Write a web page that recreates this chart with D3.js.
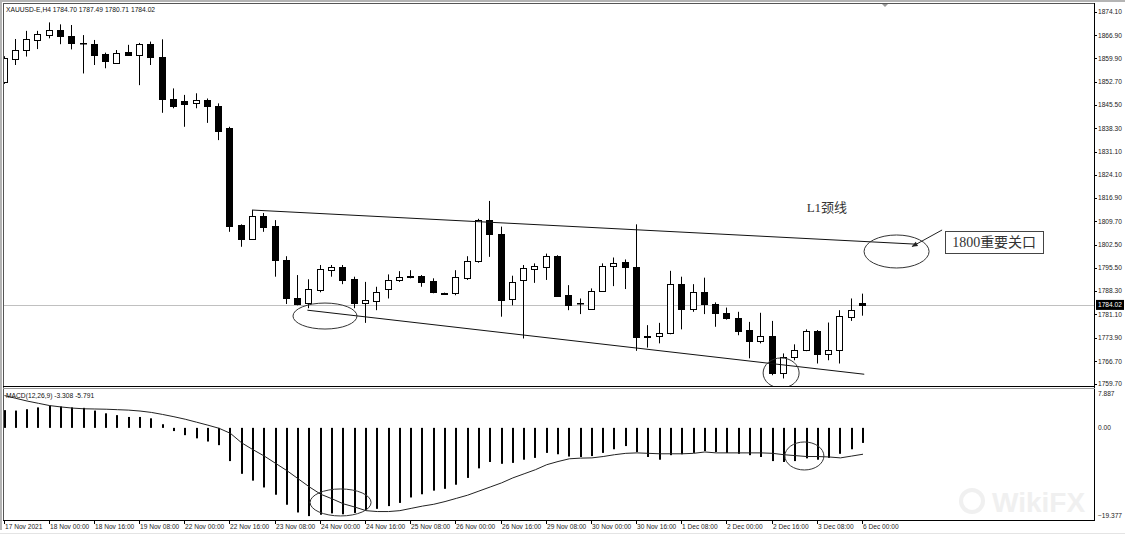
<!DOCTYPE html>
<html>
<head>
<meta charset="utf-8">
<script src="https://cdn.jsdelivr.net/npm/d3@7"></script>
<style>
  body { margin: 0; background: #fff; }
  text { font-family: "Liberation Sans", Arial, sans-serif; }
</style>
</head>
<body>
<div id="chart"></div>
<script>
var width = 1125;
var height = 536;

// XAUUSD H4, 77 bars from 17 Nov 2021 08:00 to 6 Dec 00:00
var opens  = [1852.6,1859.6,1862.4,1865.7,1867.0,1868.5,1866.7,1864.5,1864.4,1861.1,1858.6,1861.9,1861.1,1864.2,1860.2,1847.2,1846.8,1846.0,1847.0,1845.2,
              1838.4,1808.6,1804.2,1811.4,1808.3,1797.8,1786.2,1784.5,1788.4,1795.0,1795.8,1792.0,1784.5,1785.3,1788.8,1791.7,1792.7,1793.0,1791.3,1787.7,
              1787.7,1792.4,1797.5,1810.1,1805.7,1785.7,1791.7,1795.2,1795.8,1799.1,1787.0,1784.5,1783.0,1788.4,1796.0,1797.1,1795.8,1774.2,1774.4,1775.3,
              1790.4,1782.7,1788.0,1784.3,1781.4,1779.9,1776.3,1773.0,1774.4,1763.1,1768.1,1770.1,1776.0,1768.9,1770.1,1780.4,1784.70];
var highs  = [1860.5,1865.8,1868.3,1868.3,1870.9,1870.3,1870.1,1867.0,1865.5,1861.6,1862.4,1864.0,1864.6,1865.0,1865.7,1850.6,1848.6,1849.1,1847.5,1846.0,
              1838.8,1808.8,1813.2,1812.3,1810.1,1799.0,1793.2,1791.9,1796.3,1796.3,1796.3,1792.7,1791.1,1789.6,1793.4,1794.4,1794.7,1793.2,1792.2,1787.8,
              1794.7,1799.0,1810.5,1816.0,1808.1,1793.0,1796.3,1796.8,1799.8,1799.3,1790.1,1786.0,1789.1,1796.8,1798.6,1798.0,1808.8,1777.8,1778.5,1794.5,
              1792.7,1790.4,1792.4,1784.8,1783.2,1781.9,1778.8,1781.6,1779.1,1769.1,1771.9,1776.5,1776.3,1778.6,1782.4,1786.0,1787.49];
var lows   = [1852.0,1857.8,1860.4,1862.7,1866.0,1864.2,1862.6,1855.2,1857.8,1856.8,1858.3,1860.6,1851.6,1857.8,1843.1,1844.5,1838.8,1844.5,1840.0,1834.7,
              1806.5,1801.9,1804.0,1806.5,1792.7,1784.3,1783.9,1783.0,1787.9,1792.7,1790.4,1783.0,1778.5,1782.4,1786.0,1791.1,1792.2,1789.6,1787.6,1787.3,
              1787.0,1791.7,1797.0,1798.8,1780.4,1783.9,1773.7,1790.8,1791.7,1786.5,1782.4,1781.2,1782.8,1788.0,1789.8,1788.9,1769.9,1770.9,1772.2,1775.0,
              1776.5,1781.9,1781.2,1777.3,1779.5,1774.7,1767.6,1772.2,1762.4,1761.4,1767.0,1769.8,1766.0,1767.0,1766.0,1779.1,1780.71];
var closes = [1860.0,1862.4,1865.7,1867.4,1868.5,1866.7,1864.5,1864.4,1861.1,1858.8,1861.6,1861.1,1864.4,1860.2,1847.2,1845.2,1845.8,1847.0,1845.2,1837.5,
              1808.4,1804.2,1811.3,1808.0,1797.8,1786.0,1784.5,1788.8,1795.0,1795.8,1791.9,1784.5,1785.5,1788.0,1791.7,1792.7,1792.9,1791.1,1788.0,1787.5,
              1792.7,1797.5,1810.1,1805.7,1785.5,1791.0,1795.5,1796.0,1799.1,1786.8,1783.9,1784.6,1788.4,1796.0,1797.0,1795.6,1774.2,1774.4,1775.4,1790.4,
              1782.7,1788.0,1784.2,1781.6,1779.9,1776.0,1773.0,1774.4,1763.1,1768.1,1770.3,1776.0,1768.9,1770.1,1780.6,1782.6,1784.02];

// MACD(12,26,9): main (histogram) and signal line
var macdMain = [3.9,3.8,4.1,4.5,4.9,4.7,4.5,4.4,3.8,3.2,2.8,2.4,2.4,2.1,0.8,-0.7,-1.6,-2.3,-3.0,-3.8,
                -7.3,-10.1,-11.6,-13.1,-14.7,-16.9,-18.6,-19.4,-19.1,-18.8,-19.0,-18.7,-18.1,-17.8,-17.2,-16.5,-15.3,-14.6,-13.8,-13.4,
                -12.5,-11.0,-8.9,-7.5,-7.9,-7.7,-7.0,-6.6,-5.5,-5.8,-6.3,-6.4,-6.2,-5.5,-4.7,-4.0,-5.3,-6.4,-7.0,-6.0,
                -5.8,-5.5,-5.1,-5.3,-5.5,-5.7,-6.0,-6.4,-7.3,-7.5,-7.3,-6.7,-7.0,-6.6,-5.7,-4.7,-3.308];
var macdSignal = [7.1,6.5,5.9,5.4,4.9,4.6,4.35,4.2,4.15,4.1,4.0,3.9,3.7,3.4,2.95,2.45,1.9,1.25,0.6,-0.1,
                  -1.2,-3.3,-4.8,-6.2,-7.8,-9.4,-11.2,-13.0,-14.6,-15.6,-16.7,-17.4,-18.2,-18.4,-18.4,-18.2,-17.7,-17.2,-16.8,-16.2,
                  -15.5,-14.8,-13.9,-13.0,-12.1,-11.0,-10.1,-9.2,-8.1,-7.4,-6.8,-6.65,-6.6,-6.3,-5.9,-5.6,-5.5,-5.6,-5.7,-5.7,
                  -5.7,-5.6,-5.3,-5.5,-5.5,-5.5,-5.5,-5.5,-5.6,-5.9,-6.1,-6.3,-6.3,-6.4,-6.6,-6.2,-5.791];

var xLabels = ["17 Nov 2021","18 Nov 00:00","18 Nov 16:00","19 Nov 08:00","22 Nov 00:00","22 Nov 16:00","23 Nov 08:00",
               "24 Nov 00:00","24 Nov 16:00","25 Nov 08:00","26 Nov 00:00","26 Nov 16:00","29 Nov 08:00","30 Nov 00:00",
               "30 Nov 16:00","1 Dec 08:00","2 Dec 00:00","2 Dec 16:00","3 Dec 08:00","6 Dec 00:00"];
var priceTicks = [1874.10,1866.90,1859.90,1852.70,1845.50,1838.30,1831.10,1824.10,1816.90,1809.70,1802.50,
                  1795.50,1788.30,1781.10,1773.90,1766.70,1759.70];
var macdTicks = [7.887, 0, -19.377];
var lastPrice = 1784.02;

// drawn objects, in [bar index, price] coordinates
var necklineLine = [[22.0, 1813.2], [80.8, 1802.7]];
var supportLine = [[26.9, 1782.4], [76.2, 1762.7]];
var priceCircles = [[28.46, 1780.6, 32, 13], [68.84, 1763.1, 18, 15], [79.06, 1800.45, 32.5, 16.5]];
var macdCircles = [[29.84, -16.4, 30.5, 13.5], [70.9, -6.18, 19.5, 14]];
var arrowLine = [[83.09, 1807.06], [80.44, 1801.99]];

var svg = d3.select("#chart").append("svg")
    .attr("width", width)
    .attr("height", height);

svg.append("rect").attr("width", width).attr("height", height).attr("fill", "#fff");

var x = d3.scaleLinear().domain([0, 76]).range([3.5, 862]);
var y = d3.scaleLinear().domain([1759.7, 1874.1]).range([384, 12]);
var ym = d3.scaleLinear().domain([-19.377, 7.887]).range([516, 392]);

var defs = svg.append("defs");
defs.append("clipPath").attr("id", "mainClip")
    .append("rect").attr("x", 4).attr("y", 4).attr("width", 1090).attr("height", 382);
defs.append("clipPath").attr("id", "macdClip")
    .append("rect").attr("x", 4).attr("y", 389).attr("width", 1090).attr("height", 131);
defs.append("marker").attr("id", "arrowHead")
    .attr("viewBox", "0 0 10 10").attr("refX", 9).attr("refY", 5)
    .attr("markerWidth", 9).attr("markerHeight", 6).attr("orient", "auto")
    .append("path").attr("d", "M0,1 L10,5 L0,9 z").attr("fill", "#222");

// frame
svg.append("line").attr("x1", 0).attr("x2", width).attr("y1", 1).attr("y2", 1).attr("stroke", "#b4b4b4").attr("stroke-width", 2);
svg.append("line").attr("x1", 3).attr("x2", 1094).attr("y1", 3.5).attr("y2", 3.5).attr("stroke", "#555");
svg.append("line").attr("x1", 1).attr("x2", 1).attr("y1", 0).attr("y2", 530).attr("stroke", "#b4b4b4").attr("stroke-width", 2);
svg.append("line").attr("x1", 3.5).attr("x2", 3.5).attr("y1", 3).attr("y2", 520).attr("stroke", "#555");
svg.append("line").attr("x1", 1094.5).attr("x2", 1094.5).attr("y1", 3).attr("y2", 520).attr("stroke", "#000");
svg.append("line").attr("x1", 3).attr("x2", 1095).attr("y1", 386.5).attr("y2", 386.5).attr("stroke", "#000");
svg.append("line").attr("x1", 3).attr("x2", 1095).attr("y1", 388.5).attr("y2", 388.5).attr("stroke", "#999");
svg.append("line").attr("x1", 3).attr("x2", 1095).attr("y1", 520.5).attr("y2", 520.5).attr("stroke", "#000");
svg.append("line").attr("x1", 0).attr("x2", width).attr("y1", 533.5).attr("y2", 533.5).attr("stroke", "#e4e4e4");
// chart shift marker
svg.append("path").attr("d", "M882,4 L888,4 L885,7 z").attr("fill", "#999");

// watermark
var wm = svg.append("g").attr("opacity", 0.5);
wm.append("circle").attr("cx", 972).attr("cy", 501).attr("r", 11).attr("fill", "none").attr("stroke", "#e2e2e2").attr("stroke-width", 4);
wm.append("text").attr("x", 992).attr("y", 512).attr("font-size", 28).attr("font-weight", "bold")
    .attr("fill", "#e2e2e2").text("WikiFX");

var main = svg.append("g").attr("clip-path", "url(#mainClip)");

// current price line
main.append("line")
    .attr("x1", 4).attr("x2", 1094)
    .attr("y1", Math.round(y(lastPrice)) + 0.5).attr("y2", Math.round(y(lastPrice)) + 0.5)
    .attr("stroke", "#c0c0c0");

var bars = d3.range(opens.length);

// candles
var candle = main.selectAll("g.candle").data(bars).enter().append("g").attr("class", "candle");
candle.append("line")
    .attr("x1", function (i) { return Math.round(x(i)) + 0.5; })
    .attr("x2", function (i) { return Math.round(x(i)) + 0.5; })
    .attr("y1", function (i) { return y(highs[i]); })
    .attr("y2", function (i) { return y(lows[i]); })
    .attr("stroke", "#000");
candle.append("rect")
    .attr("x", function (i) { return Math.round(x(i)) - 2.5; })
    .attr("width", 6)
    .attr("y", function (i) { return Math.round(y(Math.max(opens[i], closes[i]))) + 0.5; })
    .attr("height", function (i) {
        return Math.max(0.5, Math.round(Math.abs(y(opens[i]) - y(closes[i]))));
    })
    .attr("fill", function (i) { return closes[i] >= opens[i] ? "#fff" : "#000"; })
    .attr("stroke", "#000");

// drawn lines and circles on the price chart
[necklineLine, supportLine].forEach(function (ln) {
    main.append("line")
        .attr("x1", x(ln[0][0])).attr("y1", y(ln[0][1]))
        .attr("x2", x(ln[1][0])).attr("y2", y(ln[1][1]))
        .attr("stroke", "#111").attr("stroke-width", 1);
});
main.selectAll("ellipse.pc").data(priceCircles).enter().append("ellipse")
    .attr("cx", function (d) { return x(d[0]); })
    .attr("cy", function (d) { return y(d[1]); })
    .attr("rx", function (d) { return d[2]; })
    .attr("ry", function (d) { return d[3]; })
    .attr("fill", "none").attr("stroke", "#333");

main.append("line")
    .attr("x1", x(arrowLine[0][0])).attr("y1", y(arrowLine[0][1]))
    .attr("x2", x(arrowLine[1][0])).attr("y2", y(arrowLine[1][1]))
    .attr("stroke", "#222").attr("marker-end", "url(#arrowHead)");

main.append("text")
    .attr("x", x(71.1)).attr("y", y(1812.6))
    .style("font-family", "'Liberation Serif','Noto Sans CJK SC',serif")
    .attr("font-size", 13).attr("fill", "#333")
    .text("L1颈线");

main.append("rect")
    .attr("x", Math.round(x(83.36)) + 0.5).attr("y", Math.round(y(1806.9)) + 0.5)
    .attr("width", 98).attr("height", 22)
    .attr("fill", "#fff").attr("stroke", "#444");
main.append("text")
    .attr("x", x(83.36) + 49).attr("y", y(1806.9) + 16)
    .attr("text-anchor", "middle")
    .style("font-family", "'Liberation Serif','Noto Sans CJK SC',serif")
    .attr("font-size", 14).attr("fill", "#333")
    .text("1800重要关口");

main.append("text")
    .attr("x", 6).attr("y", 11.5)
    .attr("font-size", 6.7).attr("fill", "#111")
    .text("XAUUSD-E,H4  1784.70 1787.49 1780.71 1784.02");

// price axis
var pa = svg.append("g");
pa.selectAll("line").data(priceTicks).enter().append("line")
    .attr("x1", 1094).attr("x2", 1097)
    .attr("y1", function (d) { return Math.round(y(d)) + 0.5; })
    .attr("y2", function (d) { return Math.round(y(d)) + 0.5; })
    .attr("stroke", "#000");
pa.selectAll("text").data(priceTicks).enter().append("text")
    .attr("x", 1098).attr("y", function (d) { return y(d) + 2.4; })
    .attr("font-size", 6.6).attr("fill", "#222")
    .text(function (d) { return d.toFixed(2); });
pa.append("rect").attr("x", 1096).attr("y", y(lastPrice) - 5).attr("width", 28).attr("height", 10).attr("fill", "#000");
pa.append("text").attr("x", 1098).attr("y", y(lastPrice) + 2.4)
    .attr("font-size", 6.6).attr("fill", "#fff").text(lastPrice.toFixed(2));

// MACD window
var macd = svg.append("g").attr("clip-path", "url(#macdClip)");
macd.selectAll("rect.hist").data(bars).enter().append("rect")
    .attr("class", "hist")
    .attr("x", function (i) { return Math.round(x(i)); })
    .attr("width", 2)
    .attr("y", function (i) { return Math.min(ym(0), ym(macdMain[i])); })
    .attr("height", function (i) { return Math.abs(ym(macdMain[i]) - ym(0)); })
    .attr("fill", "#000");

macd.append("path")
    .datum(bars)
    .attr("d", d3.line()
        .x(function (i) { return x(i) + 1; })
        .y(function (i) { return ym(macdSignal[i]); }))
    .attr("fill", "none").attr("stroke", "#222").attr("stroke-width", 1);

macd.selectAll("ellipse.mc").data(macdCircles).enter().append("ellipse")
    .attr("cx", function (d) { return x(d[0]); })
    .attr("cy", function (d) { return ym(d[1]); })
    .attr("rx", function (d) { return d[2]; })
    .attr("ry", function (d) { return d[3]; })
    .attr("fill", "none").attr("stroke", "#333");

macd.append("text")
    .attr("x", 6).attr("y", 397.5)
    .attr("font-size", 6.7).attr("fill", "#111")
    .text("MACD(12,26,9) -3.308 -5.791");

svg.selectAll("text.mt").data(macdTicks).enter().append("text")
    .attr("class", "mt")
    .attr("x", 1098)
    .attr("y", function (d) { return Math.min(Math.max(ym(d) + 2.4, 396), 518); })
    .attr("font-size", 6.6).attr("fill", "#222")
    .text(function (d) { return d === 0 ? "0.00" : d3.format(".3f")(d); });

// time axis
var ta = svg.append("g");
ta.selectAll("line").data(xLabels).enter().append("line")
    .attr("x1", function (d, k) { return Math.round(x(k * 4)) + 0.5; })
    .attr("x2", function (d, k) { return Math.round(x(k * 4)) + 0.5; })
    .attr("y1", 521).attr("y2", 524)
    .attr("stroke", "#000");
ta.selectAll("text").data(xLabels).enter().append("text")
    .attr("x", function (d, k) { return Math.round(x(k * 4)) + 1; })
    .attr("y", 529)
    .attr("font-size", 6.6).attr("fill", "#222")
    .text(function (d) { return d; });
</script>
</body>
</html>
